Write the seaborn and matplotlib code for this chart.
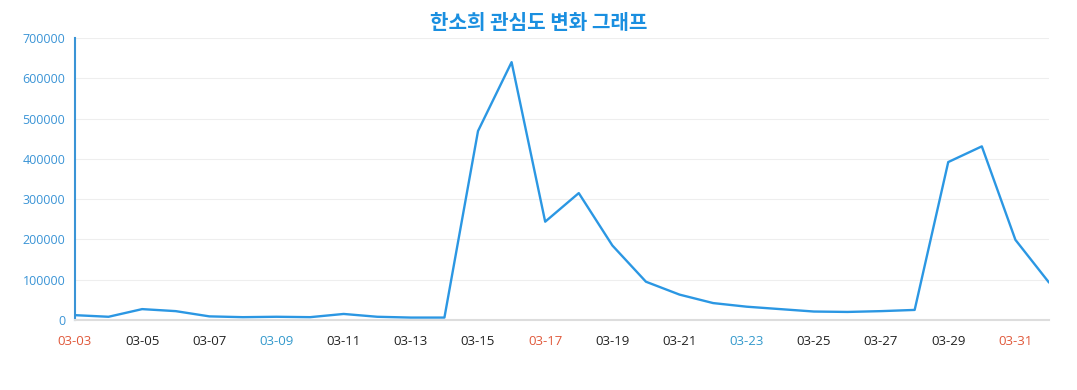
import pandas as pd
import matplotlib
matplotlib.use("Agg")
import matplotlib.pyplot as plt
import seaborn as sns

# data
dates = ["03-03", "03-04", "03-05", "03-06", "03-07", "03-08", "03-09", "03-10",
         "03-11", "03-12", "03-13", "03-14", "03-15", "03-16", "03-17", "03-18",
         "03-19", "03-20", "03-21", "03-22", "03-23", "03-24", "03-25", "03-26",
         "03-27", "03-28", "03-29", "03-30", "03-31", "04-01"]
values = [12000, 8000, 27000, 22000, 9000, 7000, 8000, 7000,
          15000, 8000, 6000, 6000, 469000, 640000, 244000, 315000,
          185000, 95000, 63000, 42000, 33000, 27000, 21000, 20000,
          22000, 25000, 392000, 431000, 199000, 93000]
red_days = ["03-03", "03-17", "03-31"]
blue_days = ["03-09", "03-23"]

df = pd.DataFrame({"date": dates, "value": values})
df["pos"] = range(len(dates))

sns.set_style("white")
plt.rcParams['font.family'] = ['Open Sans', 'Noto Sans CJK KR', 'DejaVu Sans']

fig = plt.figure(figsize=(10.77, 3.9), dpi=100)
ax = fig.add_axes([0.0696, 0.1795, 0.9044, 0.7231])

sns.lineplot(data=df, x="pos", y="value", color="#2b97e3", linewidth=1.7, ax=ax)

ax.set_xlim(0, len(dates) - 1)
ax.set_ylim(0, 700000)
ax.set_yticks(range(0, 700001, 100000))
ax.set_yticklabels([str(v) for v in range(0, 700001, 100000)], color="#3a94d6", fontsize=9)
ax.grid(axis="y", color="#eeeeee", linewidth=0.8)
ax.set_axisbelow(True)

ax.set_xticks(df["pos"])
labels = [d if i % 2 == 0 else "" for i, d in enumerate(dates)]
ax.set_xticklabels(labels, fontsize=9.5)
for lab, d in zip(ax.get_xticklabels(), dates):
    if d in red_days:
        lab.set_color("#e0583a")
    elif d in blue_days:
        lab.set_color("#3399cc")
    else:
        lab.set_color("#222222")

ax.tick_params(axis="x", length=5, width=1, color="#d8d8d8", pad=6)
ax.tick_params(axis="y", length=3, color="#cccccc", pad=4)

for s in ["top", "right"]:
    ax.spines[s].set_visible(False)
ax.spines["left"].set_color("#3a94d6")
ax.spines["left"].set_linewidth(1.5)
ax.spines["bottom"].set_color("#dddddd")
ax.spines["bottom"].set_linewidth(1.5)

ax.set_xlabel("")
ax.set_ylabel("")
fig.suptitle("한소희 관심도 변화 그래프", y=0.968, fontsize=14.5, fontweight="bold",
             color="#1a8fe0", family=['Noto Sans CJK KR', 'DejaVu Sans'])

fig.savefig("out.png", dpi=100)
